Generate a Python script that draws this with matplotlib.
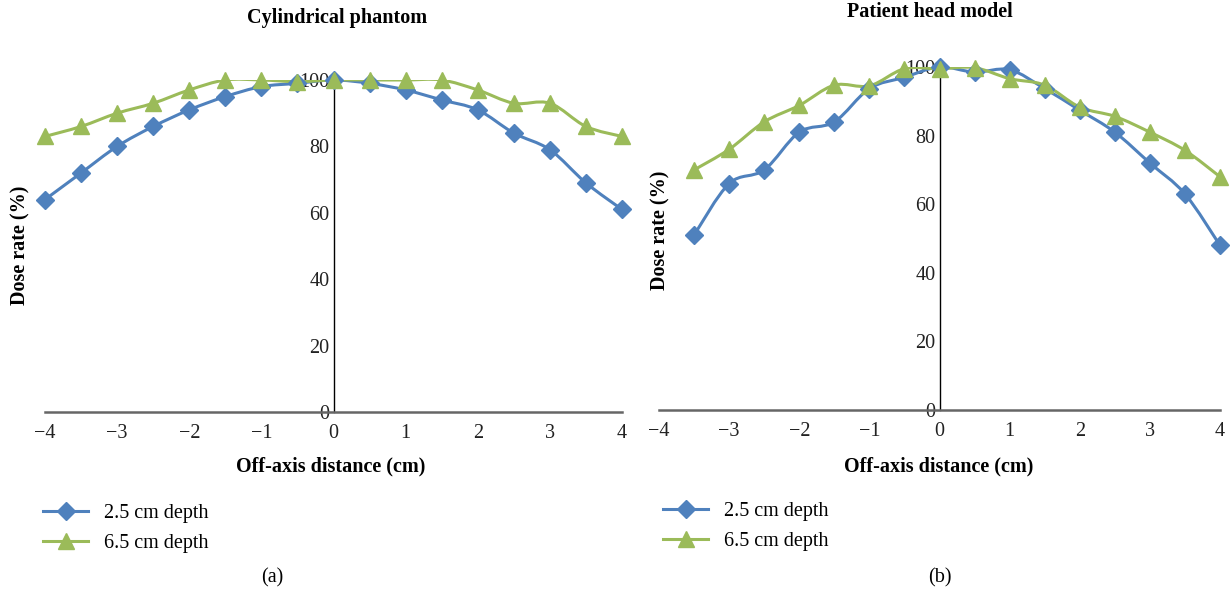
import numpy as np
import matplotlib
matplotlib.use("Agg")
import matplotlib.pyplot as plt
from matplotlib.lines import Line2D
from matplotlib.path import Path
from matplotlib.patches import PathPatch

# off-axis distance (cm)
x_cyl = [-4, -3.5, -3, -2.5, -2, -1.5, -1, -0.5, 0, 0.5, 1, 1.5, 2, 2.5, 3, 3.5, 4]
cyl_25 = [64, 72, 80, 86, 91, 95, 98, 99, 100, 99, 97, 94, 91, 84, 79, 69, 61]
cyl_65 = [83, 86, 90, 93, 97, 100, 100, 99.5, 100, 100, 100, 100, 97, 93, 93, 86, 83]

x_head = [-3.5, -3, -2.5, -2, -1.5, -1, -0.5, 0, 0.5, 1, 1.5, 2, 2.5, 3, 3.5, 4]
head_25 = [51, 66, 70, 81, 84, 93.7, 97, 100, 98.5, 99.2, 93.7, 87.4, 81, 72, 63, 48]
head_65 = [70, 76, 84, 88.8, 94.7, 94.5, 99.5, 99.5, 99.8, 96.6, 94.7, 88.3, 85.6, 81, 75.7, 68]

labels = ["2.5 cm depth", "6.5 cm depth"]
blue = "#4f81bd"
green = "#9bbb59"

plt.rcParams['font.family'] = ['Liberation Serif', 'DejaVu Serif']


def smooth_path(xs, ys):
    # catmull-rom style curve through the points, like Excel's smoothed line
    p = np.column_stack([xs, ys]).astype(float)
    verts = [p[0]]
    codes = [Path.MOVETO]
    n = len(p)
    for i in range(n - 1):
        p0 = p[i - 1] if i > 0 else p[i]
        p1 = p[i]
        p2 = p[i + 1]
        p3 = p[i + 2] if i + 2 < n else p[i + 1]
        c1 = p1 + (p2 - p0) / 6.0
        c2 = p2 - (p3 - p1) / 6.0
        verts += [c1, c2, p2]
        codes += [Path.CURVE4] * 3
    return Path(verts, codes)


def draw_panel(ax, xs, y1, y2):
    for ys, col, mk, ms in [(y1, blue, 'D', 9), (y2, green, '^', 11)]:
        ax.add_patch(PathPatch(smooth_path(xs, ys), fc='none', ec=col, lw=2.2, zorder=2))
        ax.plot(xs, ys, ls='none', marker=mk, ms=ms, color=col, zorder=3, clip_on=False)

    ax.set_xlim(-4, 4)
    ax.set_ylim(0, 100)
    ax.set_xticks(range(-4, 5))
    ax.set_yticks(range(0, 101, 20))
    ax.spines['left'].set_position(('data', 0))
    ax.spines['left'].set_linewidth(1.0)
    ax.spines['left'].set_color('black')
    ax.spines['bottom'].set_color('#666666')
    ax.spines['bottom'].set_linewidth(1.8)
    ax.spines['top'].set_visible(False)
    ax.spines['right'].set_visible(False)
    ax.tick_params(axis='both', length=0, labelsize=14.5, colors='#222222')
    ax.tick_params(axis='y', pad=3)
    ax.tick_params(axis='x', pad=9)
    ax.patch.set_alpha(0)


fig = plt.figure(figsize=(12.31, 5.97), dpi=100)

ax1 = fig.add_axes([45 / 1231, 1 - 412 / 597, 577 / 1231, 332 / 597])
draw_panel(ax1, x_cyl, cyl_25, cyl_65)
ax2 = fig.add_axes([659 / 1231, 1 - 410 / 597, 561 / 1231, 343 / 597])
draw_panel(ax2, x_head, head_25, head_65)

fig.text(337 / 1231, 1 - 18 / 597, "Cylindrical phantom", ha='center', va='center',
         fontsize=14.5, fontweight='bold')
fig.text(930 / 1231, 1 - 12 / 597, "Patient head model", ha='center', va='center',
         fontsize=14.5, fontweight='bold')

fig.text(20 / 1231, 1 - 245 / 597, "Dose rate (%)", rotation=90, ha='center', va='center',
         fontsize=14.5, fontweight='bold')
fig.text(660 / 1231, 1 - 230 / 597, "Dose rate (%)", rotation=90, ha='center', va='center',
         fontsize=14.5, fontweight='bold')

fig.text(331 / 1231, 1 - 466 / 597, "Off-axis distance (cm)", ha='center', va='center',
         fontsize=14.5, fontweight='bold')
fig.text(939 / 1231, 1 - 466 / 597, "Off-axis distance (cm)", ha='center', va='center',
         fontsize=14.5, fontweight='bold')

handles = [Line2D([0], [0], color=blue, lw=2.2, marker='D', ms=9),
           Line2D([0], [0], color=green, lw=2.2, marker='^', ms=11)]
for anchor_x, anchor_y in [(43, 504), (663, 502)]:
    fig.legend(handles=handles, labels=labels, loc='upper left',
               bbox_to_anchor=(anchor_x / 1231, 1 - anchor_y / 597),
               frameon=False, fontsize=14.5, handlelength=2.25, handletextpad=0.8,
               labelspacing=0.55, borderaxespad=0, borderpad=0)

fig.text(272 / 1231, 1 - 578 / 597, "(a)", ha='center', va='center', fontsize=14.5)
fig.text(940 / 1231, 1 - 578 / 597, "(b)", ha='center', va='center', fontsize=14.5)

fig.savefig("out.png", dpi=100)
